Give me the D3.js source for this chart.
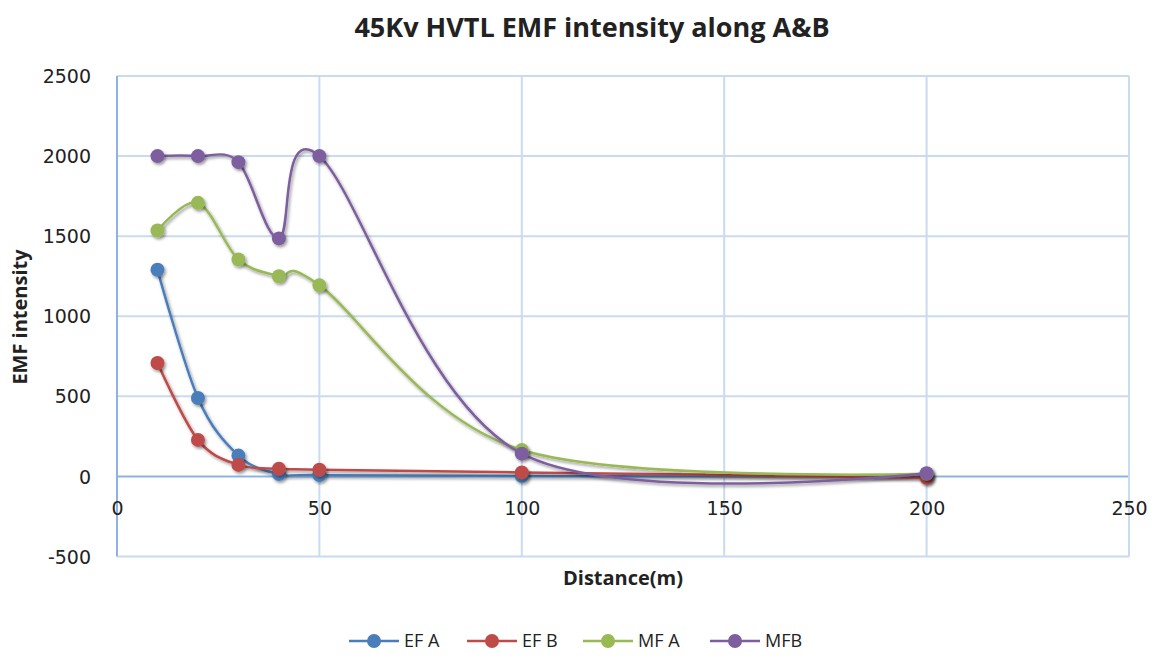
<!DOCTYPE html>
<html>
<head>
<meta charset="utf-8">
<script src="https://cdn.jsdelivr.net/npm/d3@7"></script>
<style>
  body { margin: 0; background: #fff; }
  svg { display: block; }
  .tick text { font-family: "DejaVu Sans", sans-serif; font-size: 19px; fill: #222; }
</style>
</head>
<body>
<div id="chart"></div>
<script>
var distance = [10, 20, 30, 40, 50, 100, 200];
var efA = [1290, 490, 130, 15, 8, 2, 0];
var efB = [708, 228, 72, 48, 42, 25, -8];
var mfA = [1535, 1708, 1354, 1250, 1193, 165, 17];
var mfB = [2000, 2000, 1962, 1486, 2000, 142, 20];
var seriesNames = ["EF A", "EF B", "MF A", "MFB"];
var seriesColors = ["#4a7ebb", "#be4b48", "#98b954", "#7d5fa0"];
var xTicks = [0, 50, 100, 150, 200, 250];
var yTicks = [-500, 0, 500, 1000, 1500, 2000, 2500];

var width = 1160, height = 662;
var svg = d3.select("#chart").append("svg")
	.attr("width", width).attr("height", height);

var defs = svg.append("defs");
var f = defs.append("filter").attr("id", "shadow")
	.attr("x", "-50%").attr("y", "-50%").attr("width", "200%").attr("height", "200%");
f.append("feDropShadow").attr("dx", 1.5).attr("dy", 2).attr("stdDeviation", 1.6)
	.attr("flood-color", "#000").attr("flood-opacity", 0.4);

var x = d3.scaleLinear().domain([0, 250]).range([117, 1129]);
var y = d3.scaleLinear().domain([-500, 2500]).range([556.5, 76]);

// grid
var g = svg.append("g");
g.selectAll(".hgrid").data(yTicks).enter().append("line")
	.attr("x1", x(0)).attr("x2", x(250))
	.attr("y1", function(d) { return y(d); }).attr("y2", function(d) { return y(d); })
	.attr("stroke", function(d) { return d === 0 ? "#8db3e2" : "#c9dbf0"; })
	.attr("stroke-width", 2);
g.selectAll(".vgrid").data(xTicks).enter().append("line")
	.attr("y1", y(-500)).attr("y2", y(2500))
	.attr("x1", function(d) { return x(d); }).attr("x2", function(d) { return x(d); })
	.attr("stroke", function(d) { return d === 0 ? "#8db3e2" : "#c9dbf0"; })
	.attr("stroke-width", 2);

// axes (labels only)
var fmt = function(d) { return String(d); };
var yAxis = svg.append("g").attr("transform", "translate(" + (x(0) - 23) + ",0)")
	.call(d3.axisLeft(y).tickValues(yTicks).tickSize(0).tickFormat(fmt));
yAxis.select(".domain").remove();
yAxis.selectAll("text").attr("dy", "0.35em");

var xAxis = svg.append("g").attr("transform", "translate(0," + (y(0) + 22) + ")")
	.call(d3.axisBottom(x).tickValues(xTicks).tickSize(0).tickFormat(fmt));
xAxis.select(".domain").remove();

// titles
svg.append("text").attr("x", 592).attr("y", 37).attr("text-anchor", "middle")
	.style("font-family", "'Open Sans', sans-serif")
	.style("font-weight", "bold").style("font-size", "27px").style("fill", "#222")
	.text("45Kv HVTL EMF intensity along  A&B");
svg.append("text").attr("x", 623).attr("y", 585).attr("text-anchor", "middle")
	.style("font-family", "'Open Sans', sans-serif")
	.style("font-weight", "bold").style("font-size", "20px").style("fill", "#222")
	.text("Distance(m)");
svg.append("text").attr("transform", "translate(27,317) rotate(-90)").attr("text-anchor", "middle")
	.style("font-family", "'Open Sans', sans-serif")
	.style("font-weight", "bold").style("font-size", "20px").style("fill", "#222")
	.text("EMF intensity");

// series, smoothed like the spreadsheet's "smooth line"
var allSeries = [efA, efB, mfA, mfB];
var line = d3.line()
	.x(function(d, i) { return x(distance[i]); })
	.y(function(d) { return y(d); })
	.curve(d3.curveCardinal.tension(0));

var sg = svg.append("g");
allSeries.forEach(function(vals, k) {
	sg.append("path").datum(vals)
		.attr("d", line)
		.attr("fill", "none")
		.attr("stroke", seriesColors[k])
		.attr("stroke-width", 2.5)
		.attr("filter", "url(#shadow)");
	sg.selectAll(".m" + k).data(vals).enter().append("circle")
		.attr("cx", function(d, i) { return x(distance[i]); })
		.attr("cy", function(d) { return y(d); })
		.attr("r", 7)
		.attr("fill", seriesColors[k])
		.attr("filter", "url(#shadow)");
});

// legend
var legX = [349, 467, 583, 710];
var legend = svg.append("g");
seriesNames.forEach(function(name, k) {
	var lg = legend.append("g").attr("transform", "translate(" + legX[k] + ",641)");
	lg.append("line").attr("x1", 0).attr("x2", 50).attr("y1", 0).attr("y2", 0)
		.attr("stroke", seriesColors[k]).attr("stroke-width", 2.5);
	lg.append("circle").attr("cx", 25).attr("cy", 0).attr("r", 7).attr("fill", seriesColors[k]);
	lg.append("text").attr("x", 55).attr("y", 0).attr("dy", "0.35em")
		.style("font-family", "'Open Sans', sans-serif")
		.style("font-size", "18px").style("fill", "#222")
		.text(name);
});
</script>
</body>
</html>
